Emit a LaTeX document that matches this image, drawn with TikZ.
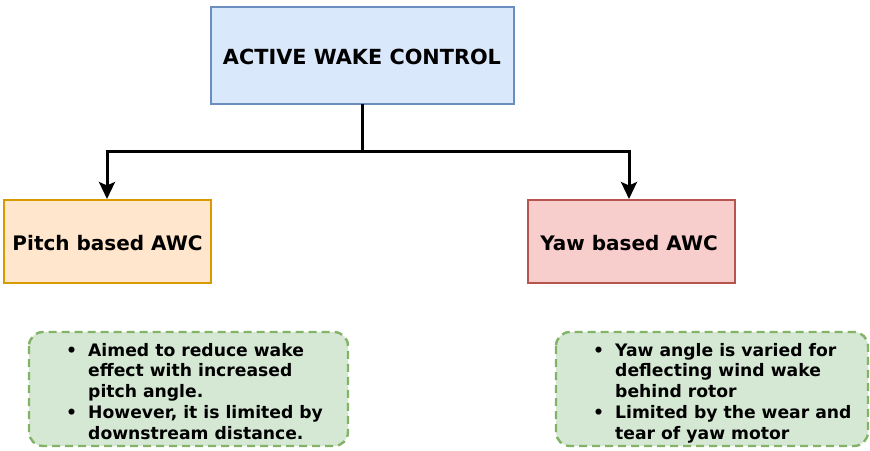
\documentclass[tikz,border=0pt]{standalone}
\usepackage{fontspec}
\setmainfont{DejaVu Sans}
\usetikzlibrary{arrows.meta}
\definecolor{blueFill}{HTML}{DAE8FC}
\definecolor{blueLine}{HTML}{6C8EBF}
\definecolor{orangeFill}{HTML}{FFE6CC}
\definecolor{orangeLine}{HTML}{D79B00}
\definecolor{redFill}{HTML}{F8CECC}
\definecolor{redLine}{HTML}{B85450}
\definecolor{greenFill}{HTML}{D5E8D4}
\definecolor{greenLine}{HTML}{82B366}
\tikzset{
  box/.style={draw, line width=2.3pt, inner sep=0pt},
  notebox/.style={draw=greenLine, fill=greenFill, line width=2.4pt,
    dash pattern=on 8pt off 5pt, rounded corners=14pt},
  link/.style={line width=3pt, black},
  arrowlink/.style={link, -{Stealth[length=17pt,width=16pt,inset=3.5pt]}},
  title/.style={font=\bfseries\fontsize{20}{24}\selectfont},
  notes/.style={font=\bfseries\fontsize{17.2}{20.75}\selectfont, align=left, inner sep=0pt}
}
\begin{document}
\begin{tikzpicture}[x=1pt,y=-1pt]
  \useasboundingbox (0,0) rectangle (870,450);

  % main and branch boxes
  \draw[box, draw=blueLine, fill=blueFill] (211,7) rectangle (514,104);
  \node[title, font=\bfseries\fontsize{20.8}{24}\selectfont] (main) at (362,57) {ACTIVE WAKE CONTROL};
  \coordinate (mainS) at (362,104);

  \draw[box, draw=orangeLine, fill=orangeFill] (4,200) rectangle (211,283);
  \node[title] (pitch) at (107.5,243) {Pitch based AWC};
  \coordinate (pitchN) at (107,199);

  \draw[box, draw=redLine, fill=redFill] (528,200) rectangle (735,283);
  \node[title] (yaw) at (629,243) {Yaw based AWC};
  \coordinate (yawN) at (629,199);

  % connectors
  \coordinate (split) at (362,151);
  \draw[link] (mainS) -- (split);
  \draw[arrowlink] (split) -| (pitchN);
  \draw[arrowlink] (split) -| (yawN);

  % note boxes
  \draw[notebox] (29,332) rectangle (348,446);
  \node[notes, anchor=base west] (pitchnotes) at (66,356)
    {\begin{tabular}[t]{@{}l@{\hspace{11pt}}l@{}}
      \textbullet & Aimed to reduce wake\\
       & effect with increased\\
       & pitch angle.\\
      \textbullet & However, it is limited by\\
       & downstream distance.
    \end{tabular}};

  \draw[notebox] (556,332) rectangle (868,446);
  \node[notes, anchor=base west] (yawnotes) at (593,356)
    {\begin{tabular}[t]{@{}l@{\hspace{11pt}}l@{}}
      \textbullet & Yaw angle is varied for\\
       & deflecting wind wake\\
       & behind rotor\\
      \textbullet & Limited by the wear and\\
       & tear of yaw motor
    \end{tabular}};
\end{tikzpicture}
\end{document}
